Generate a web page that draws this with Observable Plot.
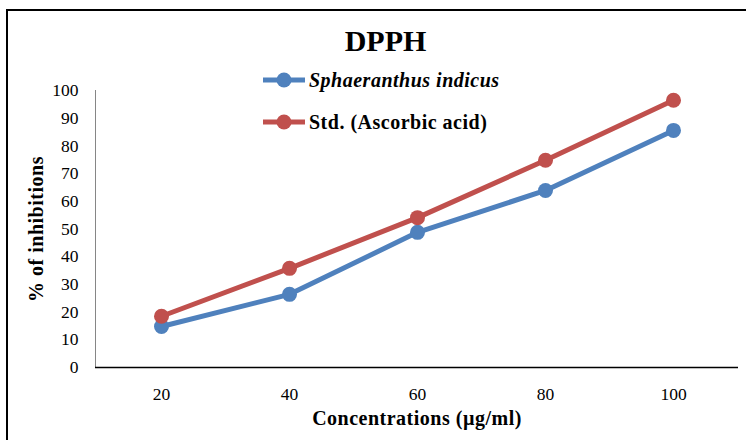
<!DOCTYPE html>
<html><head><meta charset="utf-8">
<script src="https://cdn.jsdelivr.net/npm/d3@7"></script>
<script src="https://cdn.jsdelivr.net/npm/@observablehq/plot@0.6"></script>
<style>
body{margin:0;background:#fff;font-family:"Liberation Serif",serif;}
#wrap{position:relative;width:751px;height:440px;overflow:hidden;}
#border{position:absolute;left:6px;top:8.5px;width:740px;height:440px;border-left:2px solid #000;border-top:2px solid #000;box-sizing:border-box;}
#title{position:absolute;left:0;width:771px;top:26px;text-align:center;font-weight:bold;font-size:30px;font-family:"Liberation Serif",serif;line-height:1;}
.leg{position:absolute;left:262px;font-weight:bold;font-size:20px;letter-spacing:0.5px;display:flex;align-items:center;height:22px;font-family:"Liberation Serif",serif;}
.leg svg{margin-right:3px;}
svg [aria-label="y-axis label"] text,svg [aria-label="x-axis label"] text{font-weight:bold;font-size:20px;letter-spacing:0.5px;}
</style></head>
<body><div id="wrap"><div id="border"></div><div id="chart"></div><div id="title">DPPH</div><div id="legend"></div></div>
<script>
const concentrations = ["20","40","60","80","100"];
const seriesNames = ["Sphaeranthus indicus","Std. (Ascorbic acid)"];
const sphaeranthus = [14.8, 26.4, 48.8, 63.9, 85.6];
const ascorbic = [18.5, 35.8, 54.1, 74.8, 96.5];
const yTicks = [0,10,20,30,40,50,60,70,80,90,100];
const colors = ["#4F81BD","#C0504D"];

const data = [];
concentrations.forEach((c,i)=>{
  data.push({x:c,y:sphaeranthus[i],s:seriesNames[0]});
});
concentrations.forEach((c,i)=>{
  data.push({x:c,y:ascorbic[i],s:seriesNames[1]});
});

const chart = Plot.plot({
  width:751,height:440,
  marginLeft:95,marginRight:13,marginTop:90,marginBottom:73,
  style:{fontFamily:"Liberation Serif, serif",fontSize:"17.5px",color:"#000",background:"transparent"},
  x:{type:"point",domain:concentrations,padding:0.5},
  y:{domain:[0,100]},
  color:{domain:seriesNames,range:colors},
  marks:[
    Plot.frame({anchor:"left",stroke:"#868686"}),
    Plot.ruleY([0],{stroke:"#000",strokeWidth:1.5}),
    Plot.axisY({ticks:yTicks,tickSize:0,tickPadding:17,label:"% of inhibitions",labelAnchor:"center",labelArrow:"none",labelOffset:67}),
    Plot.axisX({tickSize:0,tickPadding:20,label:"Concentrations (µg/ml)",labelAnchor:"center",labelArrow:"none",labelOffset:57}),
    Plot.line(data,{x:"x",y:"y",z:"s",stroke:"s",strokeWidth:5}),
    Plot.dot(data,{x:"x",y:"y",fill:"s",r:7.5})
  ]
});
document.getElementById("chart").appendChild(chart);

const leg = document.getElementById("legend");
const legTops = [69,111];
seriesNames.forEach((n,i)=>{
  const d = document.createElement("div");
  d.className="leg";
  d.style.top = legTops[i]+"px";
  d.innerHTML = `<svg width="44" height="22"><line x1="1" x2="43" y1="11" y2="11" stroke="${colors[i]}" stroke-width="5"/><circle cx="22" cy="11" r="7.5" fill="${colors[i]}"/></svg><span style="${i===0?'font-style:italic':''}">${n}</span>`;
  leg.appendChild(d);
});
</script></body></html>
